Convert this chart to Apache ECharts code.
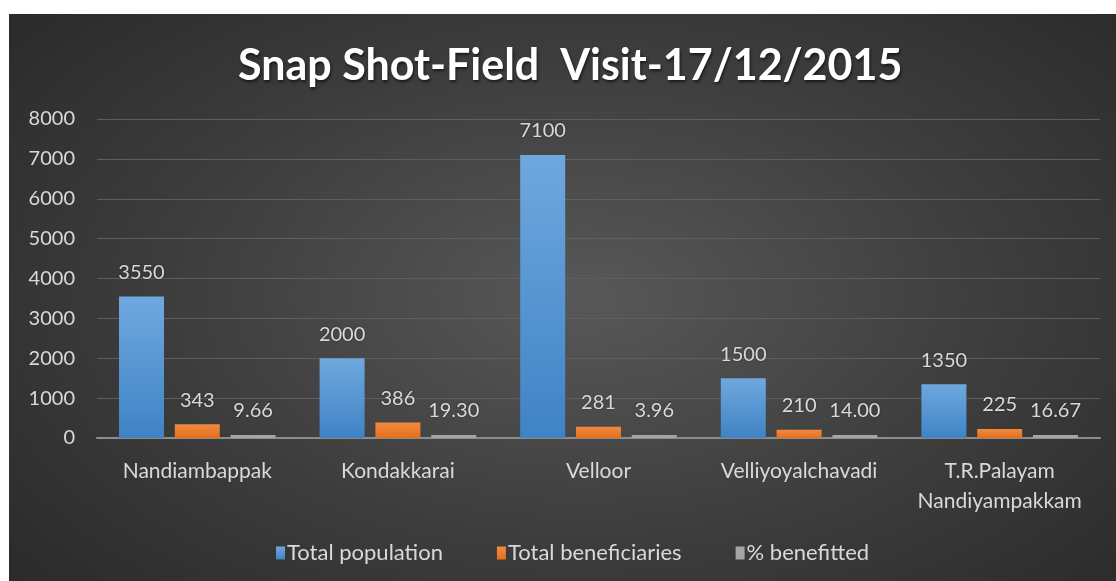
<!DOCTYPE html>
<html>
<head>
<meta charset="utf-8">
<script src="https://cdn.jsdelivr.net/npm/echarts@6/dist/echarts.min.js"></script>
<style>
html,body{margin:0;padding:0;background:#fff;width:1116px;height:581px;overflow:hidden;}
#chart{position:absolute;left:9px;top:14px;width:1107px;height:567px;
background:radial-gradient(ellipse 75% 85% at 52% 50%, #585858 0%, #3d3d3d 50%, #262626 100%);}
</style>
</head>
<body>
<div id="chart"></div>
<script>
const categories = ['Nandiambappak', 'Kondakkarai', 'Velloor', 'Velliyoyalchavadi', 'T.R.Palayam\nNandiyampakkam'];
const totalPopulation = [3550, 2000, 7100, 1500, 1350];
const totalBeneficiaries = [343, 386, 281, 210, 225];
const percentBenefitted = [9.66, 19.30, 3.96, 14.00, 16.67];
const percentLabels = ['9.66', '19.30', '3.96', '14.00', '16.67'];
const yTicks = [0, 1000, 2000, 3000, 4000, 5000, 6000, 7000, 8000];
const seriesNames = ['Total population', 'Total beneficiaries', '% benefitted'];

const FONT = 'Lato';
const labelColor = '#d9d9d9';
const labelStyle = {
  show: true, position: 'top', distance: 14,
  color: labelColor, fontFamily: FONT, fontSize: 20,
  textShadowColor: 'rgba(0,0,0,0.4)', textShadowBlur: 2
};
function grad(top, bottom){
  return new echarts.graphic.LinearGradient(0,0,0,1,[{offset:0,color:top},{offset:1,color:bottom}]);
}
const chart = echarts.init(document.getElementById('chart'), null, {renderer:'canvas'});
chart.setOption({
  backgroundColor: 'transparent',
  animation: false,
  title: {
    text: 'Snap Shot-Field  Visit-17/12/2015',
    left: 224, top: 26,
    textStyle: {color:'#ffffff', fontFamily: FONT, fontWeight:'bold', fontSize: 43,
      textShadowColor:'rgba(0,0,0,0.6)', textShadowBlur:3, textShadowOffsetX:1, textShadowOffsetY:2}
  },
  legend: {
    bottom: 12, left: 262,
    itemWidth: 9, itemHeight: 13, itemGap: 54, icon: 'rect',
    textStyle: {color: labelColor, fontFamily: FONT, fontSize: 22, padding:[0,0,0,-3]},
    data: seriesNames
  },
  grid: {left: 88, top: 105, width: 1003, height: 319, containLabel: false},
  xAxis: {
    type: 'category', data: categories,
    axisTick: {show:false},
    axisLine: {lineStyle: {color:'#8c8c8c', width: 2}},
    axisLabel: {color: labelColor, fontFamily: FONT, fontSize: 21, margin: 18, lineHeight: 30, interval: 0}
  },
  yAxis: {
    type: 'value', min: yTicks[0], max: yTicks[yTicks.length-1], interval: 1000,
    axisLine: {show:false}, axisTick: {show:false},
    splitLine: {lineStyle: {color:'#5e5e5e', width: 1}},
    axisLabel: {color: labelColor, fontFamily: FONT, fontSize: 20, margin: 22, formatter: v => String(v)}
  },
  series: [
    {name: seriesNames[0], type:'bar', data: totalPopulation, barWidth: 45, barGap: '24%',
     itemStyle: {color: grad('#6fa8de', '#3f83c6')}, label: labelStyle},
    {name: seriesNames[1], type:'bar', data: totalBeneficiaries, barWidth: 45,
     itemStyle: {color: grad('#f28a3e', '#e2701f')}, label: labelStyle},
    {name: seriesNames[2], type:'bar', data: percentBenefitted, barWidth: 45, barMinHeight: 3,
     itemStyle: {color: '#a5a5a5'},
     label: Object.assign({}, labelStyle, {formatter: p => percentLabels[p.dataIndex]})}
  ]
});
</script>
</body>
</html>
